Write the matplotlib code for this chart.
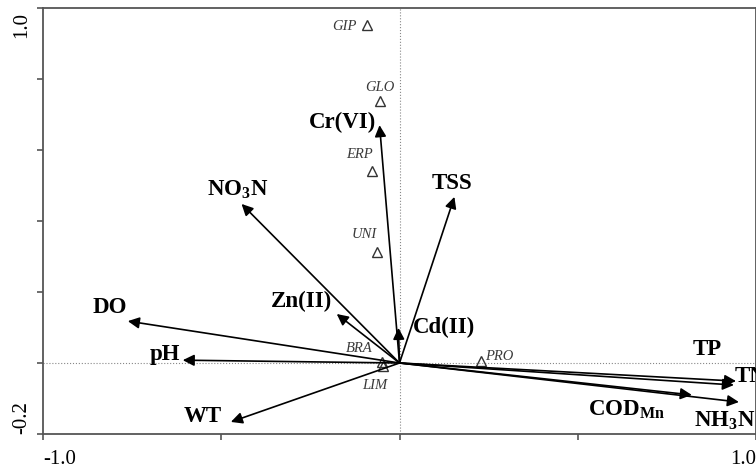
import matplotlib
matplotlib.use("Agg")
import matplotlib.pyplot as plt

plt.rcParams['font.family'] = ['Liberation Serif', 'DejaVu Serif']
plt.rcParams['mathtext.fontset'] = 'custom'
plt.rcParams['mathtext.bf'] = 'Liberation Serif:bold'
plt.rcParams['mathtext.rm'] = 'Liberation Serif:bold'

# environmental variables (arrow tips)
env_names = ['Cr(VI)', r'NO$_\mathbf{3}$N', 'TSS', 'DO', 'pH', 'Zn(II)', 'WT',
             'Cd(II)', 'TP', 'TN', r'COD$_\mathbf{Mn}$', r'NH$_\mathbf{3}$N']
env_x = [-0.056, -0.443, 0.154, -0.762, -0.608, -0.176, -0.473, -0.003,
         0.944, 0.938, 0.820, 0.952]
env_y = [0.670, 0.448, 0.468, 0.118, 0.008, 0.138, -0.166, 0.099,
         -0.051, -0.062, -0.090, -0.110]

# species scores
sp_names = ['GIP', 'GLO', 'ERP', 'UNI', 'BRA', 'LIM', 'PRO']
sp_x = [-0.090, -0.056, -0.076, -0.062, -0.048, -0.045, 0.230]
sp_y = [0.952, 0.738, 0.541, 0.313, 0.003, -0.008, 0.006]

# label placement (data coords) and alignment
env_lab = [(-0.160, 0.679, 'center'), (-0.454, 0.490, 'center'), (0.148, 0.507, 'center'),
           (-0.812, 0.155, 'center'), (-0.658, 0.023, 'center'), (-0.275, 0.172, 'center'),
           (-0.552, -0.152, 'center'), (0.126, 0.101, 'center'), (0.863, 0.037, 'center'),
           (0.940, -0.037, 'left'), (0.636, -0.130, 'center'), (0.826, -0.161, 'left')]
sp_lab = [(-0.154, 0.949, 'center'), (-0.056, 0.775, 'center'), (-0.112, 0.586, 'center'),
          (-0.098, 0.361, 'center'), (-0.112, 0.042, 'center'), (-0.070, -0.062, 'center'),
          (0.241, 0.017, 'left')]

fig = plt.figure(figsize=(7.56, 4.70), dpi=100)
ax = fig.add_axes([43 / 756, 1 - 434 / 470, 713 / 756, 426 / 470])
ax.set_xlim(-1.0, 1.0)
ax.set_ylim(-0.2, 1.0)

ax.axhline(0, color='#888888', lw=0.8, ls=':', zorder=1)
ax.axvline(0, color='#888888', lw=0.8, ls=':', zorder=1)

for name, x, y, (lx, ly, ha) in zip(env_names, env_x, env_y, env_lab):
    ax.annotate('', xy=(x, y), xytext=(0, 0),
                arrowprops=dict(arrowstyle='-|>', color='black', lw=1.2,
                                mutation_scale=17, shrinkA=0, shrinkB=0), zorder=3)
    ax.text(lx, ly, name, fontsize=16.5, fontweight='bold', ha=ha, va='center',
            clip_on=False, zorder=4)

ax.plot(sp_x, sp_y, ls='none', marker='^', ms=7, mfc='none', mec='#333333',
        mew=1.0, zorder=2)
for name, (lx, ly, ha) in zip(sp_names, sp_lab):
    ax.text(lx, ly, name, fontsize=10.5, style='italic', color='#3a3a3a',
            ha=ha, va='center', zorder=4)

for s in ax.spines.values():
    s.set_color('#555555')
    s.set_linewidth(1.3)

ax.set_xticks([-1.0, -0.5, 0.0, 0.5, 1.0])
ax.set_yticks([-0.2, 0.0, 0.2, 0.4, 0.6, 0.8, 1.0])
ax.tick_params(direction='out', length=4, width=1.2, color='#555555',
               labelbottom=False, labelleft=False)

# axis end labels only
ax.text(-1.0, -0.245, '-1.0', fontsize=15, ha='left', va='top')
ax.text(1.0, -0.245, '1.0', fontsize=15, ha='right', va='top', clip_on=False)
ax.text(-1.06, 0.99, '1.0', fontsize=15, rotation=90, ha='center', va='top')
ax.text(-1.06, -0.2, '-0.2', fontsize=15, rotation=90, ha='center', va='bottom')

fig.savefig('out.png', dpi=100)
